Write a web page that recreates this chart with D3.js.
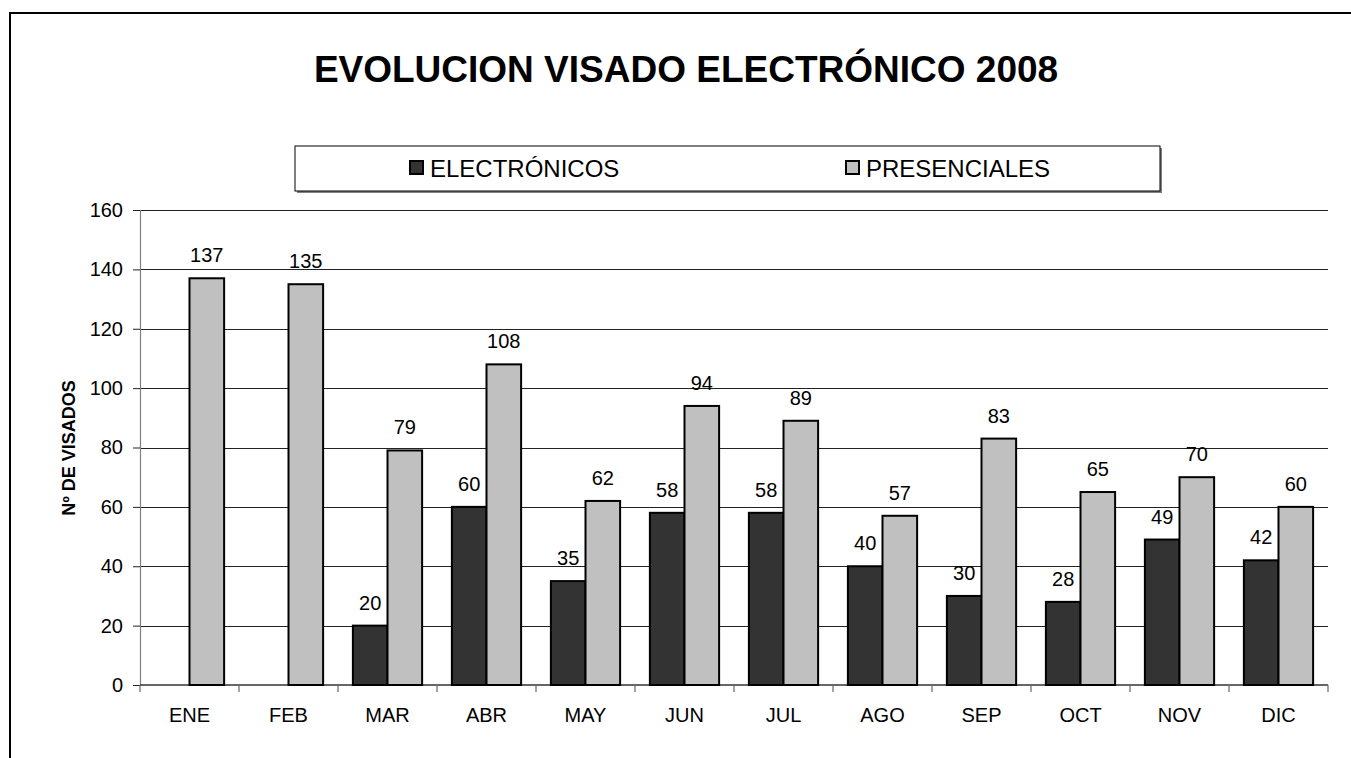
<!DOCTYPE html>
<html><head><meta charset="utf-8">
<script src="https://cdn.jsdelivr.net/npm/d3@7"></script>
<style>body{margin:0;background:#fff}svg{display:block;font-family:"Liberation Sans",Arial,sans-serif}</style>
</head><body>
<svg id="c" width="1351" height="758"></svg>
<script>
const months = ["ENE","FEB","MAR","ABR","MAY","JUN","JUL","AGO","SEP","OCT","NOV","DIC"];
const electronicos = [null,null,20,60,35,58,58,40,30,28,49,42];
const presenciales = [137,135,79,108,62,94,89,57,83,65,70,60];
const seriesNames = ["ELECTRÓNICOS","PRESENCIALES"];
const seriesColors = ["#333333","#C0C0C0"];
const yTicks = [0,20,40,60,80,100,120,140,160];

const FF = "Liberation Sans, Arial, sans-serif";
const svg = d3.select("#c");
svg.append("rect").attr("x",10).attr("y",13).attr("width",1400).attr("height",800)
  .attr("fill","#fff").attr("stroke","#000").attr("stroke-width",2);

const L=140,R=1328,T=210,B=685;
const x = d3.scaleBand().domain(months).range([L,R]);
const xs = d3.scaleBand().domain([0,1]).range([0,x.bandwidth()]).paddingInner(0).paddingOuter(0.43);
const y = d3.scaleLinear().domain([0,160]).range([B,T]);

// gridlines
svg.append("g").selectAll("line").data(yTicks.filter(d=>d>0)).join("line")
  .attr("x1",L).attr("x2",R).attr("y1",d=>Math.round(y(d))+0.5).attr("y2",d=>Math.round(y(d))+0.5)
  .attr("stroke","#222").attr("stroke-width",1);

// y axis
const ya = svg.append("g").attr("transform",`translate(${L},0)`)
  .call(d3.axisLeft(y).tickValues(yTicks).tickSize(7).tickPadding(10));
ya.select(".domain").attr("stroke","#808080").attr("stroke-width",1.2);
ya.selectAll(".tick line").attr("stroke","#222");
ya.selectAll("text").attr("font-size",20).attr("fill","#000").attr("font-family",FF);

// x axis
const xa = svg.append("g").attr("transform",`translate(0,${B})`)
  .call(d3.axisBottom(x).tickSize(0).tickPadding(22));
xa.select(".domain").remove();
xa.selectAll("text").attr("font-size",20).attr("fill","#000").attr("font-family",FF).attr("dy",null).attr("y",37);
svg.append("line").attr("x1",L).attr("x2",R).attr("y1",B).attr("y2",B).attr("stroke","#333").attr("stroke-width",1.5);
const bounds = months.map(m=>x(m)).concat([R]);
svg.append("g").selectAll("line").data(bounds).join("line")
  .attr("x1",d=>d).attr("x2",d=>d).attr("y1",B).attr("y2",B+7).attr("stroke","#666").attr("stroke-width",1.2);

// bars
const data = [electronicos,presenciales];
data.forEach((arr,si)=>{
  const g = svg.append("g");
  const pts = months.map((m,i)=>({m,v:arr[i]})).filter(d=>d.v!=null);
  g.selectAll("rect").data(pts).join("rect")
    .attr("x",d=>x(d.m)+xs(si)).attr("width",xs.bandwidth())
    .attr("y",d=>y(d.v)).attr("height",d=>B-y(d.v))
    .attr("fill",seriesColors[si]).attr("stroke","#000").attr("stroke-width",2);
  g.selectAll("text").data(pts).join("text")
    .attr("x",d=>x(d.m)+xs(si)+xs.bandwidth()/2).attr("y",d=>y(d.v)-16)
    .attr("text-anchor","middle").attr("font-size",20).text(d=>d.v);
});

// title
svg.append("text").attr("x",686).attr("y",82).attr("text-anchor","middle")
  .attr("font-size",37).attr("font-weight","bold").text("EVOLUCION VISADO ELECTRÓNICO 2008");

// y label
svg.append("text").attr("transform","translate(75,448) rotate(-90)").attr("text-anchor","middle")
  .attr("font-size",18).attr("font-weight","bold").text("Nº DE VISADOS");

// legend
const lg = svg.append("g");
lg.append("rect").attr("x",297).attr("y",148).attr("width",865).attr("height",45).attr("fill","#808080");
lg.append("rect").attr("x",295).attr("y",146).attr("width",865).attr("height",45).attr("fill","#fff").attr("stroke","#000").attr("stroke-width",1);
const lx = [410,846];
seriesNames.forEach((n,i)=>{
  lg.append("rect").attr("x",lx[i]).attr("y",161).attr("width",13).attr("height",13)
    .attr("fill",seriesColors[i]).attr("stroke","#000").attr("stroke-width",2);
  lg.append("text").attr("x",lx[i]+20).attr("y",177).attr("font-size",24).text(n);
});
</script>
</body></html>
